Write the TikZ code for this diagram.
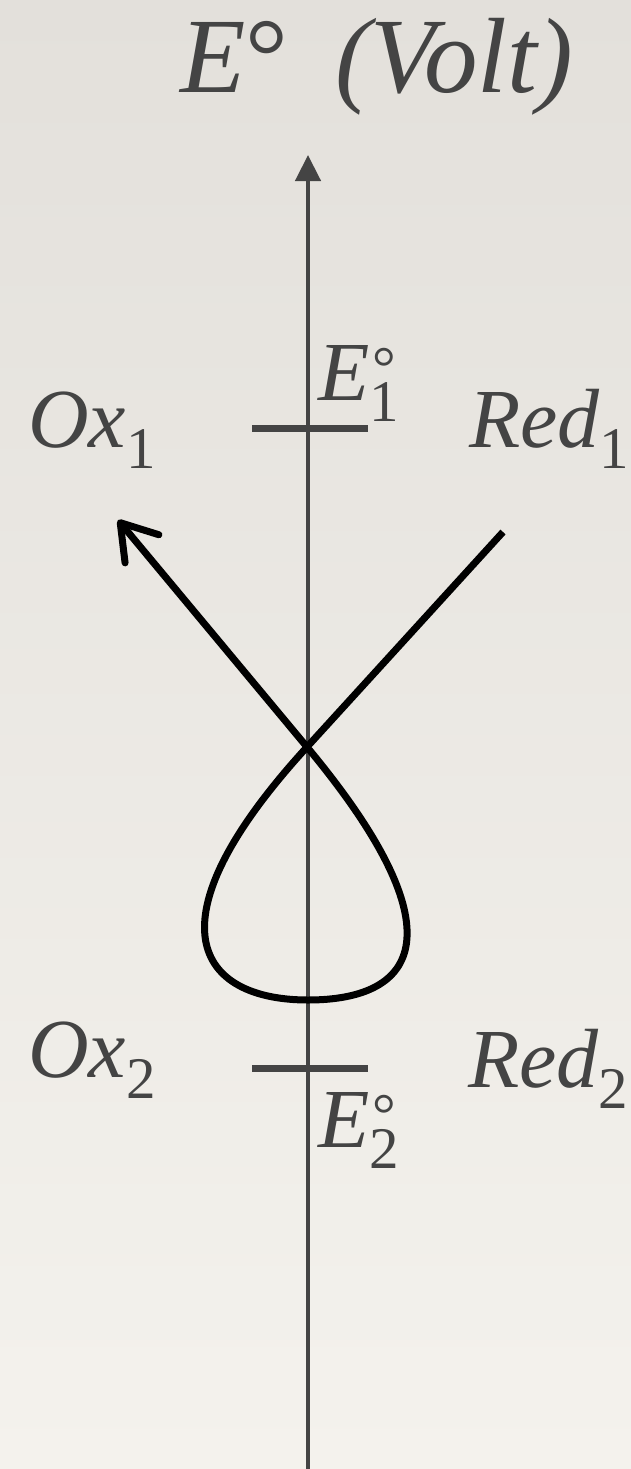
\documentclass[tikz,border=0pt]{standalone}
\usepackage{fontspec}
\setmainfont{Liberation Serif}
\usetikzlibrary{arrows.meta}
\definecolor{ink}{HTML}{444444}
\definecolor{bgtop}{HTML}{E3E0DB}
\definecolor{bgbot}{HTML}{F4F2ED}
\newcommand{\bigsz}{\fontsize{84}{84}\selectfont}
\newcommand{\subsz}{\fontsize{59}{59}\selectfont}
\newcommand{\lowsub}[1]{\raisebox{-21pt}{\subsz\upshape #1}}
\newcommand{\degsup}{\raisebox{13pt}{\subsz\upshape °}}
\tikzset{
  lbl/.style={anchor=base west, inner sep=0pt, text=ink, font=\bigsz\itshape},
  axisline/.style={draw=ink, line width=4.5pt},
  tickmark/.style={draw=ink, line width=7pt},
  curve/.style={draw=black, line width=7pt, line join=round}
}
\begin{document}
\begin{tikzpicture}[x=1pt,y=-1pt]
\useasboundingbox (0,0) rectangle (631,1469);
\shade[top color=bgtop, bottom color=bgbot] (0,0) rectangle (631,1469);

% title
\node[lbl, font=\fontsize{107}{107}\selectfont\itshape] (title) at (180,93)
  {E{\upshape °}\hspace{20pt} (Volt)};

% axis
\coordinate (axbot) at (308,1469);
\coordinate (axtop) at (308,155);
\draw[axisline, -{Triangle[length=26pt,width=25pt]}] (axbot) -- (axtop);

% ticks
\coordinate (t1l) at (252,428);
\coordinate (t1r) at (368,428);
\coordinate (t2l) at (252,1068);
\coordinate (t2r) at (368,1068);
\draw[tickmark] (t1l) -- (t1r);
\draw[tickmark] (t2l) -- (t2r);

% labels
\node[lbl] (ox1) at (28,447) {Ox\lowsub{1}};
\node[lbl] (red1) at (469,447) {Red\lowsub{1}};
\node[lbl] (e1) at (318,400) {E\rlap{\lowsub{1}}\kern3pt\degsup};
\node[lbl] (ox2) at (28,1077) {Ox\lowsub{2}};
\node[lbl] (red2) at (468,1087) {Red\lowsub{2}};
\node[lbl] (e2) at (318,1147) {E\rlap{\lowsub{2}}\kern3pt\degsup};

% curve
\coordinate (redend) at (503,532);
\coordinate (cross) at (307,747);
\coordinate (loopbot) at (308,1000);
\coordinate (oxtip) at (118,520);
\draw[curve, -{Straight Barb[length=34pt,width=44pt,line cap=round,line join=round]}]
  (redend) -- (cross)
  .. controls (145,924) and (198,1000) .. (loopbot)
  .. controls (418,1000) and (461,932) .. (cross)
  -- (oxtip);
\end{tikzpicture}
\end{document}
